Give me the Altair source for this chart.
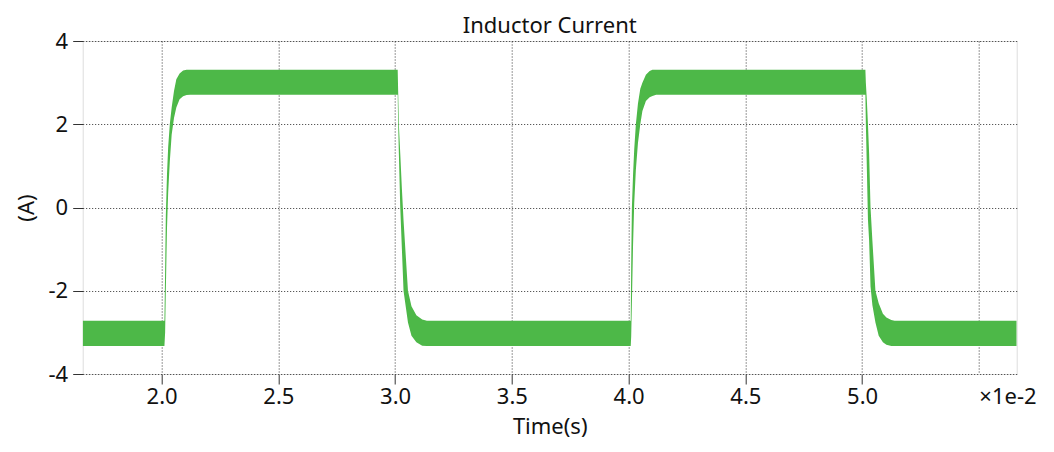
import altair as alt
import pandas as pd

# time in units of 1e-2 s, envelope of the ripple band (A)
t = [1.662,
     2.012, 2.015, 2.018, 2.023, 2.028, 2.035, 2.043, 2.053, 2.063, 2.077, 2.092, 2.107, 2.122,
     3.011, 3.013, 3.016, 3.022, 3.029, 3.036, 3.046, 3.055, 3.070, 3.091, 3.116, 3.136,
     4.009, 4.011, 4.014, 4.019, 4.024, 4.031, 4.040, 4.050, 4.059, 4.074, 4.090, 4.102, 4.118,
     5.014, 5.016, 5.020, 5.025, 5.030, 5.036, 5.044, 5.057, 5.071, 5.089, 5.104, 5.125, 5.139,
     5.662]
upper = [-2.72,
         -2.72, -1.5, -0.2, 0.8, 1.45, 2.0, 2.4, 2.8, 3.08, 3.22, 3.29, 3.31, 3.31,
         3.31, 2.8, 2.0, 1.3, 0.45, -0.3, -1.2, -2.0, -2.37, -2.59, -2.69, -2.72,
         -2.72, -1.4, 0.0, 0.8, 1.4, 2.0, 2.5, 2.85, 3.0, 3.19, 3.28, 3.31, 3.31,
         3.31, 3.0, 2.6, 2.0, 1.3, 0.0, -0.8, -2.0, -2.3, -2.55, -2.64, -2.70, -2.72,
         -2.72]
lower = [-3.33,
         -3.33, -3.0, -2.0, -0.5, 0.35, 1.1, 1.75, 2.15, 2.4, 2.6, 2.67, 2.70, 2.71,
         2.71, 2.0, 1.3, 0.0, -1.0, -2.0, -2.4, -2.76, -3.08, -3.24, -3.32, -3.33,
         -3.33, -3.1, -2.3, -0.9, 0.1, 0.9, 1.55, 2.0, 2.32, 2.56, 2.65, 2.68, 2.71,
         2.71, 2.0, 1.0, -0.3, -0.8, -1.9, -2.35, -2.76, -3.08, -3.24, -3.30, -3.33, -3.33,
         -3.33]

x_ticks = [2.0, 2.5, 3.0, 3.5, 4.0, 4.5, 5.0, 5.5]
y_ticks = [-4, -2, 0, 2, 4]
x_domain = [1.662, 5.662]
y_domain = [-4, 4]
chart_title = "Inductor Current"
x_title = "Time(s)"
y_title = "(A)"
x_exp_label = "×1e-2"

df = pd.DataFrame({"t": t, "upper": upper, "lower": lower})

FONT = "Noto Sans"
FS = 22
TXT = "#111111"
LINE = "#333333"
W, H = 934, 333
PAD_L, PAD_T = 74.7, 33
SVG_W, SVG_H = 1038, 432

x_axis = alt.Axis(
    values=x_ticks,
    title=x_title,
    labelExpr=f"datum.value > 5.4 ? '{x_exp_label}' : format(datum.value, '.1f')",
    labelAlign={"condition": {"test": "datum.value > 5.4", "value": "left"}, "value": "center"},
    tickColor={"condition": {"test": "datum.value > 5.4", "value": "transparent"}, "value": LINE},
    labelBaseline="alphabetic",
    labelPadding=19,
    tickSize=10,
    domain=False,
    grid=True,
    gridColor=LINE,
    gridDash=[1, 2],
    gridWidth=1,
    labelFont=FONT, labelFontSize=FS, labelColor=TXT,
    labelOverlap=False, labelFlush=False, labelBound=False,
    titleFont=FONT, titleFontSize=FS, titleFontWeight="normal", titleColor=TXT,
    titleX=W / 2, titleY=59.5, titleAlign="center", titleBaseline="alphabetic",
)

y_axis = alt.Axis(
    values=y_ticks,
    title=y_title,
    labelExpr="datum.value < 0 ? '-' + abs(datum.value) : '' + datum.value",
    labelPadding=5,
    tickSize=10,
    tickColor=LINE,
    domain=False,
    grid=True,
    gridColor=LINE,
    gridDash=[1, 2],
    gridWidth=1,
    labelFont=FONT, labelFontSize=FS, labelColor=TXT,
    labelOverlap=False, labelFlush=False, labelBound=False,
    titleFont=FONT, titleFontSize=FS, titleFontWeight="normal", titleColor=TXT,
    titleX=-56.5, titleY=H / 2, titleAngle=270, titleAlign="center", titleBaseline="middle",
)

chart = alt.Chart(df).mark_area(color="#4db848", clip=True, opacity=1).encode(
    x=alt.X("t:Q", scale=alt.Scale(domain=x_domain, nice=False, zero=False), axis=x_axis),
    y=alt.Y("upper:Q", scale=alt.Scale(domain=y_domain, nice=False, zero=False), axis=y_axis),
    y2="lower:Q",
).properties(
    width=W,
    height=H,
    title=alt.TitleParams(chart_title, font=FONT, fontSize=FS, fontWeight="normal",
                          color=TXT, anchor="middle", frame="group", offset=0, dy=8),
    padding={"left": PAD_L, "top": PAD_T, "right": SVG_W - PAD_L - W,
             "bottom": SVG_H - PAD_T - H},
    autosize=alt.AutoSizeParams(type="none"),
).configure_view(stroke=LINE, strokeWidth=1.2).configure(background="white")

chart.save("out.html", embed_options={"renderer": "svg", "actions": False})
